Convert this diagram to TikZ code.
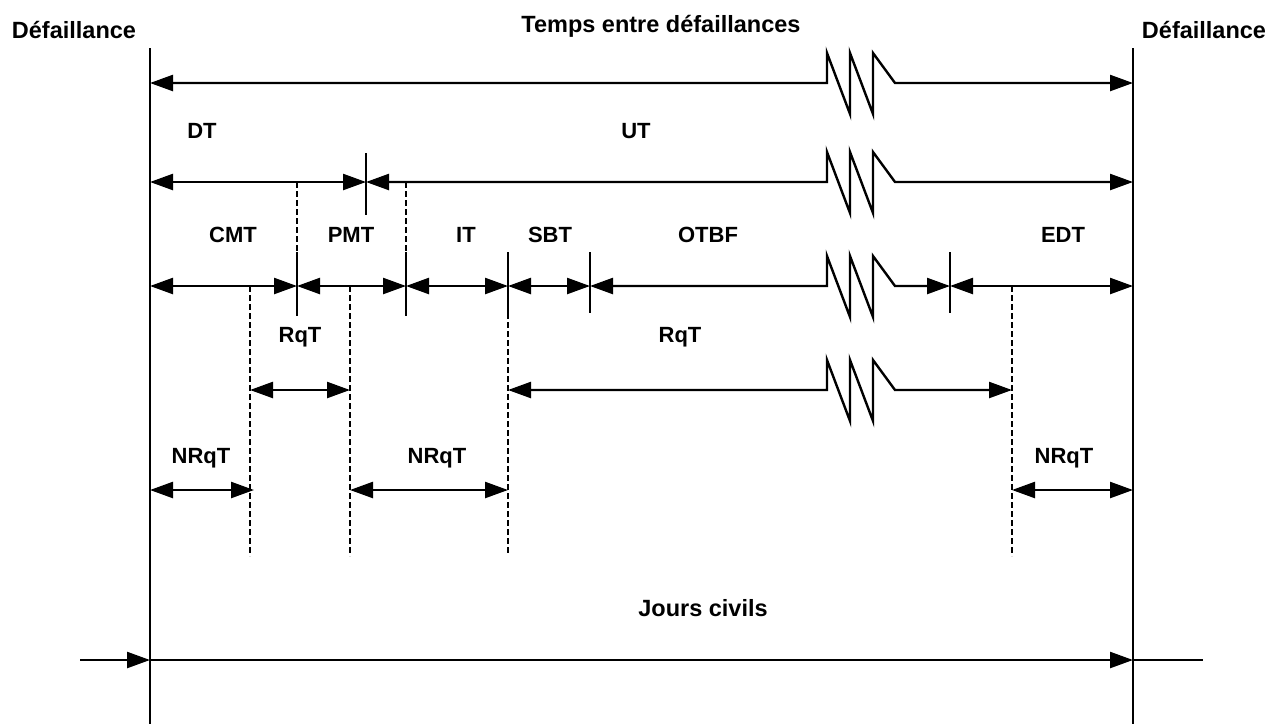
\documentclass[tikz,border=0pt]{standalone}
\usepackage{fontspec}
\setmainfont{Liberation Sans}
\usetikzlibrary{arrows.meta}
\tikzset{
  ln/.style={line width=2.4pt, line cap=butt},
  dim/.style={ln, {Triangle[length=23pt,width=16pt]}-{Triangle[length=23pt,width=16pt]}},
  rarr/.style={ln, -{Triangle[length=23pt,width=16pt]}},
  dsh/.style={ln, line width=2.2pt, dash pattern=on 6pt off 3pt},
  lbl/.style={font=\fontsize{22}{26}\selectfont\bfseries, anchor=base, inner sep=0pt},
  ttl/.style={font=\fontsize{23.5}{28}\selectfont\bfseries, anchor=base, inner sep=0pt},
}
\newcommand{\zig}{-- ++(0,-30) -- ++(23,61) -- ++(0,-61) -- ++(23,61) -- ++(0,-61) -- ++(22,30)}
\begin{document}
\begin{tikzpicture}[x=1pt,y=-1pt]
\useasboundingbox (0,0) rectangle (1272,724);
% verticals
\coordinate (L0) at (150,48); \coordinate (L1) at (150,724);
\coordinate (R0) at (1133,48); \coordinate (R1) at (1133,724);
\draw[ln] (L0) -- (L1);
\draw[ln] (R0) -- (R1);
% titles
\node[ttl] (fl) at (74,38) {Défaillance};
\node[ttl] (fr) at (1204,38) {Défaillance};
\node[ttl] (tt) at (661,32) {Temps entre défaillances};
\node[ttl] (jc) at (703,616) {Jours civils};
% row 1
\coordinate (a1) at (150,83); \coordinate (z1) at (827,83); \coordinate (b1) at (1133,83);
\draw[dim] (a1) -- (z1) \zig -- (b1);
% row 2
\node[lbl] (dt) at (202,138) {DT};
\node[lbl] (ut) at (636,138) {UT};
\coordinate (a2) at (150,182); \coordinate (m2) at (366,182); \coordinate (z2) at (827,182); \coordinate (b2) at (1133,182);
\draw[dim] (a2) -- (m2);
\draw[dim] (m2) -- (z2) \zig -- (b2);
\coordinate (t2a) at (366,153); \coordinate (t2b) at (366,215);
\draw[ln] (t2a) -- (t2b);
% row 3
\node[lbl] (cmt) at (233,242) {CMT};
\node[lbl] (pmt) at (351,242) {PMT};
\node[lbl] (it) at (466,242) {IT};
\node[lbl] (sbt) at (550,242) {SBT};
\node[lbl] (otbf) at (708,242) {OTBF};
\node[lbl] (edt) at (1063,242) {EDT};
\coordinate (p0) at (150,286); \coordinate (p1) at (297,286); \coordinate (p2) at (406,286);
\coordinate (p3) at (508,286); \coordinate (p4) at (590,286); \coordinate (z3) at (827,286);
\coordinate (p5) at (950,286); \coordinate (p6) at (1133,286);
\draw[dim] (p0) -- (p1);
\draw[dim] (p1) -- (p2);
\draw[dim] (p2) -- (p3);
\draw[dim] (p3) -- (p4);
\draw[dim] (p4) -- (z3) \zig -- (p5);
\draw[dim] (p5) -- (p6);
% ticks row 3
\foreach \x/\t/\b in {297/252/316, 406/252/316, 508/252/313, 590/252/313, 950/252/313}{
  \draw[ln] (\x,\t) -- (\x,\b);
}
% dashed guides
\coordinate (d1a) at (297,182); \coordinate (d1b) at (297,252);
\coordinate (d2a) at (406,182); \coordinate (d2b) at (406,252);
\coordinate (d3a) at (250,286); \coordinate (d3b) at (250,556);
\coordinate (d4a) at (350,286); \coordinate (d4b) at (350,556);
\coordinate (d5a) at (508,313); \coordinate (d5b) at (508,553);
\coordinate (d6a) at (1012,286); \coordinate (d6b) at (1012,556);
\draw[dsh] (d1a) -- (d1b);
\draw[dsh] (d2a) -- (d2b);
\draw[dsh] (d3a) -- (d3b);
\draw[dsh] (d4a) -- (d4b);
\draw[dsh] (d5a) -- (d5b);
\draw[dsh] (d6a) -- (d6b);
% row 4
\node[lbl] (rq1) at (300,342) {RqT};
\node[lbl] (rq2) at (680,342) {RqT};
\coordinate (q0) at (250,390); \coordinate (q1) at (350,390);
\coordinate (q2) at (508,390); \coordinate (z4) at (827,390); \coordinate (q3) at (1012,390);
\draw[dim] (q0) -- (q1);
\draw[dim] (q2) -- (z4) \zig -- (q3);
% row 5
\node[lbl] (nr1) at (201,463) {NRqT};
\node[lbl] (nr2) at (437,463) {NRqT};
\node[lbl] (nr3) at (1064,463) {NRqT};
\coordinate (n0) at (150,490); \coordinate (n1) at (254,490);
\coordinate (n2) at (350,490); \coordinate (n3) at (508,490);
\coordinate (n4) at (1012,490); \coordinate (n5) at (1133,490);
\draw[dim] (n0) -- (n1);
\draw[dim] (n2) -- (n3);
\draw[dim] (n4) -- (n5);
% row 6
\coordinate (c0) at (80,660); \coordinate (c1) at (150,660);
\coordinate (c2) at (1133,660); \coordinate (c3) at (1203,660);
\draw[rarr] (c0) -- (c1);
\draw[rarr] (c1) -- (c2);
\draw[ln] (c2) -- (c3);
\end{tikzpicture}
\end{document}
